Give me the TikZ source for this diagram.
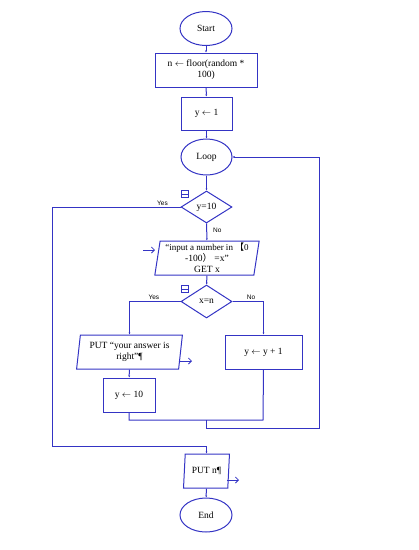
\documentclass[tikz,border=0pt]{standalone}
\usepackage{fontspec}
\setmainfont{Liberation Serif}
\newfontfamily\lblfont{Liberation Sans}
\newfontfamily\cjk{Noto Sans CJK SC}
\usetikzlibrary{shapes.geometric,arrows.meta}
\definecolor{flowblue}{RGB}{52,52,196}

\tikzset{every picture/.style={line width=1pt}}
\tikzset{
  flow/.style={draw=flowblue, line width=1pt, font=\fontsize{9.5}{11}\selectfont},
  term/.style={flow, ellipse, minimum width=52pt, minimum height=34pt, inner sep=0pt},
  proc/.style={flow, rectangle, inner sep=1pt, align=center},
  dec/.style={flow, diamond, minimum width=51pt, minimum height=33pt, inner sep=0pt},
  iobox/.style={flow, trapezium, trapezium left angle=81, trapezium right angle=99, trapezium stretches=true, inner sep=0pt, align=center},
  link/.style={draw=flowblue, line width=1pt, -{Latex[length=2pt,width=2pt]}},
  wire/.style={draw=flowblue, line width=1pt},
  ioarrow/.style={draw=flowblue, line width=0.8pt, -{Straight Barb[length=3pt,width=6pt]}},
  lbl/.style={font=\lblfont\fontsize{6.5}{7}\selectfont, inner sep=1pt},
  foldbox/.style={draw=flowblue, line width=0.8pt, minimum size=7pt, inner sep=0pt,
    path picture={\draw[flowblue, line width=0.8pt] (path picture bounding box.west) -- (path picture bounding box.east);}}
}

\begin{document}
\begin{tikzpicture}[x=1pt,y=1pt,yscale=-1]
        \useasboundingbox (0,0) rectangle (419,550);

        % Terminals and boxes
        \node [term] (start) at (206,28.5) {Start};
        \node [proc, minimum width=102pt, minimum height=34pt] (init) at (206,70) {n $\leftarrow$ floor(random *\\100)};
        \node [proc, minimum width=51pt, minimum height=33pt] (yone) at (206.5,113.5) {y $\leftarrow$ 1};
        \node [term, minimum width=51pt, minimum height=36pt] (loop) at (206.5,157) {Loop};
        \node [dec, minimum height=32pt] (chk) at (206.5,207) {y=10};
        \node [iobox, minimum width=105pt, minimum height=34pt] (inp) at (207,258) {\fontsize{9}{10}\selectfont “input a number in {\cjk 【}0\\-100{\cjk ）} =x”\\GET x};
        \node [dec] (cmp) at (206.5,301.5) {x=n};
        \node [iobox, minimum width=106pt, minimum height=34pt] (right) at (129.5,352) {PUT “your answer is\\right”¶};
        \node [proc, minimum width=52pt, minimum height=34pt] (yten) at (129,395) {y $\leftarrow$ 10};
        \node [proc, minimum width=77pt, minimum height=34pt] (inc) at (263.5,352) {y $\leftarrow$ y + 1};
        \node [iobox, minimum width=46pt, minimum height=34pt] (putn) at (206.5,471) {PUT n¶};
        \node [term] (stop) at (206,515) {End};

        % fold markers
        \node [foldbox] (fold1) at (185,194) {};
        \node [foldbox] (fold2) at (185,289) {};

        % helper points
        \coordinate (ja) at (129,420);
        \coordinate (jb) at (263,420);
        \coordinate (jc) at (206,420);
        \coordinate (jd) at (206,428);
        \coordinate (back) at (319,428);
        \coordinate (yesl) at (52,207);
        \coordinate (yesb) at (52,446);
        \coordinate (inarr) at (143,250);
        \coordinate (outa) at (180,361);
        \coordinate (outb) at (227,480);

        % Straight flow
        \draw [link] (start) -- (init);
        \draw [link] (init) -- (yone);
        \draw [link] (yone) -- (loop);
        \draw [link] (loop) -- (chk);
        \draw [link] (chk) -- node [lbl, anchor=west, pos=0.4, xshift=5pt] {No} (inp);
        \draw [link] (inp) -- (cmp);
        \draw [link] (cmp.west) -| node [lbl, anchor=south, pos=0.3, xshift=4pt] {Yes} (right.north);
        \draw [link] (cmp.east) -| node [lbl, anchor=south, pos=0.3] {No} (inc.north);
        \draw [link] (right) -- (yten);
        \draw [link] (putn) -- (stop);

        % merge and loop back
        \draw [wire] (yten.south) -- (ja) -- (jb) -- (inc.south);
        \draw [wire] (jc) -- (jd);
        \draw [link] (jd) -- (back) |- (loop.east);

        % Yes branch of y=10
        \draw [link] (chk.west) -- node [lbl, anchor=south, pos=0.14] {Yes} (yesl) -- (yesb) -| (putn.north);

        % input / output marks
        \draw [ioarrow] (inarr) -- ++(12,0);
        \draw [ioarrow] (outa) -- ++(12,0);
        \draw [ioarrow] (outb) -- ++(12,0);

    \end{tikzpicture}
\end{document}
